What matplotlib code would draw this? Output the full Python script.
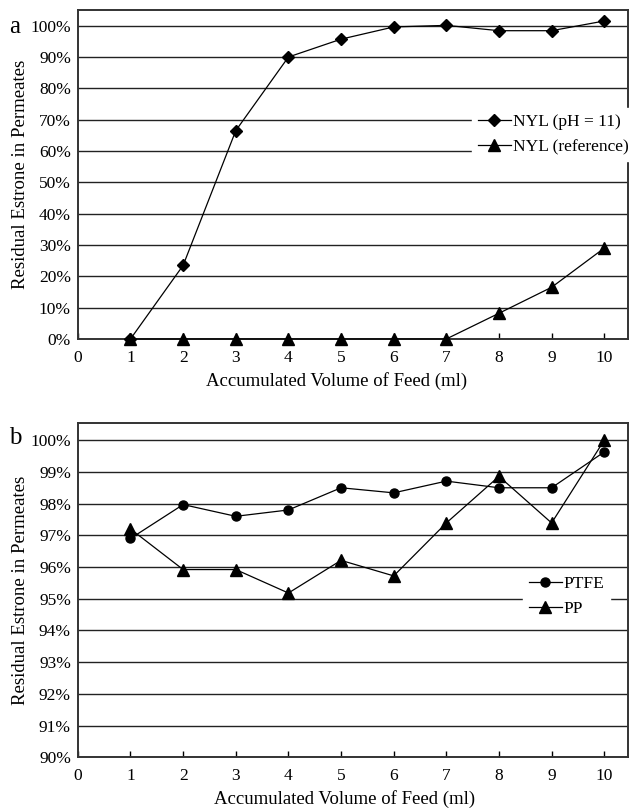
import matplotlib
matplotlib.use('Agg')
import matplotlib.pyplot as plt
from matplotlib.ticker import PercentFormatter

plt.rcParams['font.family'] = ['Liberation Serif', 'DejaVu Serif']

feed_ml = [1, 2, 3, 4, 5, 6, 7, 8, 9, 10]

# panel a
nyl_ph11 = [0.0, 23.5, 66.5, 90.0, 95.7, 99.6, 100.1, 98.4, 98.4, 101.5]
nyl_ref = [0.0, 0.0, 0.0, 0.0, 0.0, 0.0, 0.0, 8.2, 16.5, 29.0]

# panel b
ptfe = [96.9, 97.97, 97.6, 97.8, 98.5, 98.34, 98.71, 98.5, 98.5, 99.63]
pp = [97.2, 95.92, 95.92, 95.18, 96.21, 95.72, 97.39, 98.86, 97.39, 100.0]

x_ticks = list(range(0, 11))
ylabel = 'Residual Estrone in Permeates'
xlabel = 'Accumulated Volume of Feed (ml)'

fig = plt.figure(figsize=(6.33, 8.09), dpi=100)
ax_a = fig.add_axes([0.123, 0.581, 0.869, 0.407])
ax_b = fig.add_axes([0.123, 0.064, 0.869, 0.413])


def style_axes(ax, yticks, ylim, xlabel_x):
    ax.set_xlim(0, 10.45)
    ax.set_ylim(*ylim)
    ax.set_xticks(x_ticks)
    ax.set_yticks(yticks)
    ax.yaxis.set_major_formatter(PercentFormatter(decimals=0))
    ax.grid(axis='y', color='#222222', linewidth=1.0)
    ax.set_axisbelow(True)
    for s in ax.spines.values():
        s.set_color('#333333')
        s.set_linewidth(1.4)
    ax.tick_params(axis='x', direction='in', length=4, width=1, labelsize=12.5, pad=8)
    ax.tick_params(axis='y', length=0, labelsize=12.5, pad=5)
    ax.set_xlabel(xlabel, fontsize=13.5, labelpad=4)
    ax.xaxis.label.set_x(xlabel_x)
    ax.set_ylabel(ylabel, fontsize=13.5, labelpad=1)


def add_legend(ax, anchor):
    ax.legend(loc='upper left', bbox_to_anchor=anchor, frameon=True, fontsize=12.5,
              handlelength=1.9, handletextpad=0.1, borderpad=0.35, labelspacing=0.5,
              borderaxespad=0, fancybox=False, edgecolor='white', framealpha=1)


line_kw = dict(color='black', lw=0.9, clip_on=False, zorder=3)

style_axes(ax_a, range(0, 101, 10), (0, 105.1), 0.471)
ax_a.plot(feed_ml, nyl_ph11, marker='D', ms=6, label='NYL (pH = 11)', **line_kw)
ax_a.plot(feed_ml, nyl_ref, marker='^', ms=8, label='NYL (reference)', **line_kw)
add_legend(ax_a, (0.716, 0.702))
fig.text(0.015, 0.967, 'a', fontsize=18, va='center')

style_axes(ax_b, [90 + i for i in range(11)], (90, 100.54), 0.484)
ax_b.plot(feed_ml, ptfe, marker='o', ms=6.5, label='PTFE', **line_kw)
ax_b.plot(feed_ml, pp, marker='^', ms=8, label='PP', **line_kw)
add_legend(ax_b, (0.809, 0.56))
fig.text(0.015, 0.458, 'b', fontsize=18, va='center')

fig.savefig('out.png', dpi=100)
